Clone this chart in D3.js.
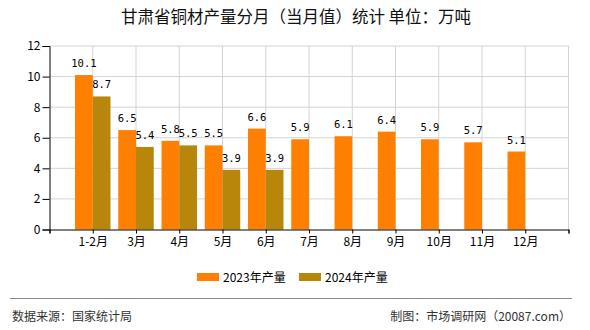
<!DOCTYPE html>
<html><head><meta charset="utf-8">
<script src="https://cdn.jsdelivr.net/npm/d3@7"></script>
<style>body{margin:0;background:#fff;} svg{display:block;}</style>
</head><body>
<svg id="c" width="590" height="330"></svg>
<script>
const categories = ["1-2月","3月","4月","5月","6月","7月","8月","9月","10月","11月","12月"];
const values2023 = [10.1,6.5,5.8,5.5,6.6,5.9,6.1,6.4,5.9,5.7,5.1];
const values2024 = [8.7,5.4,5.5,3.9,3.9];
const yTicks = [0,2,4,6,8,10,12];
const seriesNames = ["2023年产量","2024年产量"];
const colors = ["#FF8000","#B8860B"];

const svg = d3.select("#c");
const cjk = "'Noto Sans CJK SC', sans-serif";
const L = 49.5, R = 568.5, T = 46, B = 229.5;
const x = d3.scaleLinear().domain([0, categories.length + 1]).range([L, R]);
const y = d3.scaleLinear().domain([0, 12]).range([B, T]);
const step = x(1) - x(0);
const bw = step * 0.41;

svg.append("text").attr("x", 296).attr("y", 23).attr("text-anchor", "middle")
  .attr("font-family", cjk).attr("font-size", 16.5).attr("fill", "#111")
  .text("甘肃省铜材产量分月（当月值）统计 单位：万吨");

// grid
const g = svg.append("g");
g.selectAll(".hg").data(yTicks.filter(d => d > 0)).join("line")
  .attr("x1", L).attr("x2", R).attr("y1", d => y(d)).attr("y2", d => y(d))
  .attr("stroke", "#d3d3d3").attr("stroke-width", 1);
g.selectAll(".vg").data(d3.range(1, categories.length + 2)).join("line")
  .attr("x1", d => x(d)).attr("x2", d => x(d)).attr("y1", T).attr("y2", B)
  .attr("stroke", "#d3d3d3").attr("stroke-width", 1);

// bars
svg.append("g").selectAll("rect").data(values2023).join("rect")
  .attr("x", (d, i) => x(i + 1) - bw).attr("width", bw)
  .attr("y", d => y(d)).attr("height", d => B - y(d)).attr("fill", colors[0]);
svg.append("g").selectAll("rect").data(values2024).join("rect")
  .attr("x", (d, i) => x(i + 1)).attr("width", bw)
  .attr("y", d => y(d)).attr("height", d => B - y(d)).attr("fill", colors[1]);

// labels
const lf = "'DejaVu Sans Mono', monospace";
svg.append("g").selectAll("text").data(values2023).join("text")
  .attr("x", (d, i) => x(i + 1) - bw / 2).attr("y", d => y(d) - 8)
  .attr("text-anchor", "middle").attr("font-family", lf).attr("font-size", 10.5).attr("fill", "#000")
  .text(d => d.toFixed(1));
svg.append("g").selectAll("text").data(values2024).join("text")
  .attr("x", (d, i) => x(i + 1) + bw / 2).attr("y", d => y(d) - 8)
  .attr("text-anchor", "middle").attr("font-family", lf).attr("font-size", 10.5).attr("fill", "#000")
  .text(d => d.toFixed(1));

// axes
const ya = svg.append("g").attr("transform", `translate(${L},0)`)
  .call(d3.axisLeft(y).tickValues(yTicks).tickSize(7).tickPadding(2).tickFormat(d3.format("d")));
const xa = svg.append("g").attr("transform", `translate(0,${B})`)
  .call(d3.axisBottom(x).tickValues(d3.range(0, categories.length + 2)).tickSize(4).tickPadding(4)
    .tickFormat(d => (d >= 1 && d <= categories.length) ? categories[d - 1] : ""));
[ya, xa].forEach(a => {
  a.select(".domain").attr("stroke", "#000");
  a.selectAll(".tick line").attr("stroke", "#000");
  a.selectAll("text").attr("font-family", cjk).attr("font-size", 12).attr("fill", "#000");
});

// legend
const lg = svg.append("g");
const lx = [197, 299];
seriesNames.forEach((n, i) => {
  lg.append("rect").attr("x", lx[i]).attr("y", 273).attr("width", 22).attr("height", 8).attr("fill", colors[i]);
  lg.append("text").attr("x", lx[i] + 26).attr("y", 281.5).attr("font-family", cjk)
    .attr("font-size", 12).attr("fill", "#000").text(n);
});

// footer
svg.append("line").attr("x1", 10).attr("x2", 572).attr("y1", 298.5).attr("y2", 298.5)
  .attr("stroke", "#888").attr("stroke-width", 1);
svg.append("text").attr("x", 12).attr("y", 321).attr("font-family", cjk).attr("font-size", 12)
  .attr("fill", "#333").text("数据来源：国家统计局");
svg.append("text").attr("x", 571).attr("y", 321).attr("text-anchor", "end").attr("font-family", cjk)
  .attr("font-size", 12).attr("fill", "#333").text("制图：市场调研网（20087.com）");
</script>
</body></html>
